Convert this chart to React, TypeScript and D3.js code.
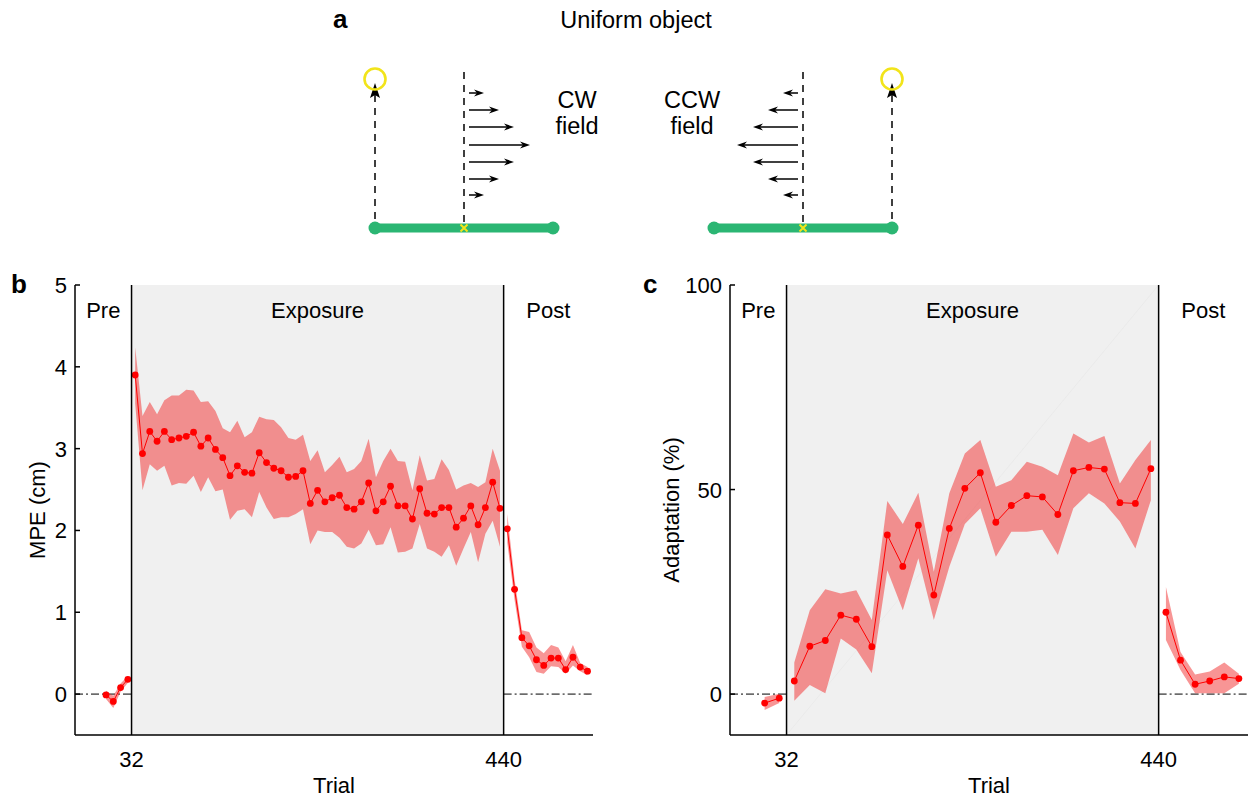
import * as d3 from "d3";
import React from "react";

const FONT = "'Liberation Sans', Arial, Helvetica, sans-serif";
const RED = "#ff0000";
const BAND = "rgba(242, 52, 52, 0.52)";
const GREEN = "#2bb673";
const YELLOW = "#f2e41a";
const FS = 22;

// ---- panel b: MPE (cm), blocks of 8 trials ----
const mpePreTrials = [4, 12, 20, 28];
const mpePre = [-0.01, -0.09, 0.08, 0.18];
const mpePreLo = [-0.06, -0.17, 0.03, 0.14];
const mpePreHi = [0.04, -0.02, 0.13, 0.22];

const mpeExpTrials = d3.range(36, 440, 8);
const mpeExp = [
  3.9, 2.94, 3.21, 3.09, 3.21, 3.11, 3.13, 3.15, 3.2, 3.03,
  3.13, 2.99, 2.89, 2.67, 2.79, 2.71, 2.7, 2.95, 2.83, 2.76,
  2.73, 2.65, 2.66, 2.73, 2.33, 2.49, 2.35, 2.4, 2.43, 2.28,
  2.26, 2.35, 2.58, 2.24, 2.35, 2.54, 2.3, 2.3, 2.14, 2.51,
  2.21, 2.2, 2.28, 2.28, 2.04, 2.15, 2.3, 2.07, 2.28, 2.59, 2.27,
];
const mpeExpHi = [
  4.24, 3.4, 3.57, 3.42, 3.59, 3.65, 3.65, 3.72, 3.71, 3.57,
  3.58, 3.46, 3.25, 3.2, 3.34, 3.14, 3.2, 3.39, 3.36, 3.35,
  3.26, 3.13, 3.11, 3.17, 2.85, 2.98, 2.71, 2.8, 2.9, 2.71,
  2.75, 2.85, 3.12, 2.65, 2.85, 3.0, 2.85, 2.84, 2.49, 2.92,
  2.61, 2.63, 2.87, 2.74, 2.5, 2.55, 2.58, 2.53, 2.59, 3.0, 2.73,
];
const mpeExpLo = [
  3.55, 2.49, 2.81, 2.73, 2.79, 2.55, 2.58, 2.57, 2.67, 2.47,
  2.65, 2.48, 2.5, 2.13, 2.24, 2.26, 2.16, 2.47, 2.28, 2.14,
  2.16, 2.16, 2.2, 2.26, 1.83, 2.0, 1.98, 1.98, 1.91, 1.8,
  1.78, 1.84, 2.01, 1.82, 1.83, 2.04, 1.73, 1.74, 1.78, 2.08,
  1.78, 1.74, 1.68, 1.82, 1.57, 1.78, 1.98, 1.61, 1.96, 2.12, 1.8,
];

const mpePostTrials = d3.range(444, 536, 8);
const mpePost = [2.02, 1.28, 0.69, 0.59, 0.42, 0.35, 0.44, 0.44, 0.3, 0.45, 0.33, 0.28];
const mpePostHi = [2.2, 1.4, 0.78, 0.76, 0.57, 0.5, 0.6, 0.57, 0.4, 0.6, 0.38, 0.33];
const mpePostLo = [1.85, 1.15, 0.58, 0.45, 0.27, 0.25, 0.34, 0.33, 0.25, 0.35, 0.28, 0.23];

// ---- panel c: adaptation (%), blocks of 16/17 trials ----
const adPreTrials = [8, 24];
const adPre = [-2.2, -1.0];
const adPreLo = [-3.9, -2.2];
const adPreHi = [-0.7, 0.1];

const adExpTrials = d3.range(40.5, 440, 17);
const adExp = [
  3.2, 11.7, 13.1, 19.3, 18.3, 11.6, 38.9, 31.2, 41.3, 24.2, 40.5, 50.3,
  54.1, 42.0, 46.1, 48.5, 48.2, 43.9, 54.6, 55.4, 55.0, 46.8, 46.6, 55.1,
];
const adExpHi = [
  7.7, 20.5, 25.6, 24.6, 25.4, 18.1, 47.2, 41.6, 49.2, 29.9, 49.1, 58.8,
  62.1, 50.7, 52.3, 56.8, 55.6, 53.5, 63.7, 61.5, 63.1, 51.5, 57.2, 62.1,
];
const adExpLo = [
  -1.6, 2.2, 0.2, 13.6, 10.9, 5.1, 30.3, 20.5, 33.2, 18.1, 31.1, 41.6,
  45.4, 33.6, 39.7, 39.7, 40.2, 34.0, 45.4, 49.1, 46.6, 42.2, 35.6, 47.4,
];

const adPostTrials = d3.range(448, 536, 16);
const adPost = [20.0, 8.3, 2.4, 3.2, 4.2, 3.8];
const adPostHi = [26.2, 10.3, 4.8, 5.5, 7.7, 5.0];
const adPostLo = [13.2, 5.9, 0.2, 0.2, 0.2, 2.5];

const phaseBounds = [32, 440];
const trialDomain = [-30, 538];

// ---- panel a: force field arrows (relative lengths) ----
const fieldArrowLengths = [15, 30, 45, 61, 45, 30, 15];
const fieldArrowRows = [93, 110, 127, 145, 162, 179, 195];

type Phase = { trials: number[]; mean: number[]; lo: number[]; hi: number[] };

function Series({ phase, x, y }: { phase: Phase; x: any; y: any }) {
  const pts = phase.trials.map((t, i) => ({ t, m: phase.mean[i], lo: phase.lo[i], hi: phase.hi[i] }));
  const area = d3.area<any>().x((d) => x(d.t)).y0((d) => y(d.lo)).y1((d) => y(d.hi));
  const line = d3.line<any>().x((d) => x(d.t)).y((d) => y(d.m));
  return (
    <g>
      <path d={area(pts) || ""} fill={BAND} stroke="none" />
      <path d={line(pts) || ""} fill="none" stroke={RED} strokeWidth={1} />
      {pts.map((d, i) => (
        <circle key={i} cx={x(d.t)} cy={y(d.m)} r={3.4} fill={RED} />
      ))}
    </g>
  );
}

function Panel(props: {
  letter: string;
  letterX: number;
  left: number;
  right: number;
  yDomain: number[];
  yTicks: number[];
  yLabel: string;
  yLabelX: number;
  phases: Phase[];
  diagonal?: boolean;
}) {
  const top = 285;
  const bottom = 735;
  const x = d3.scaleLinear().domain(trialDomain).range([props.left, props.right]);
  const y = d3.scaleLinear().domain(props.yDomain).range([bottom, top]);
  const [x0, x1] = phaseBounds.map((b) => x(b));
  const midY = (top + bottom) / 2;
  return (
    <g fontFamily={FONT}>
      <rect x={x0} y={top} width={x1 - x0} height={bottom - top} fill="#f0f0f0" />
      {props.diagonal && (
        <line x1={x0} y1={bottom} x2={x1} y2={top} stroke="#e9e9e9" strokeWidth={0.8} />
      )}
      {/* zero reference, dash-dot, outside the exposure block */}
      <line x1={props.left} x2={x0} y1={y(0)} y2={y(0)} stroke="#000" strokeWidth={1} strokeDasharray="8,3,2,3" />
      <line x1={x1} x2={props.right} y1={y(0)} y2={y(0)} stroke="#000" strokeWidth={1} strokeDasharray="8,3,2,3" />
      {props.phases.map((p, i) => (
        <Series key={i} phase={p} x={x} y={y} />
      ))}
      {/* phase boundaries */}
      <line x1={x0} x2={x0} y1={top} y2={bottom} stroke="#000" strokeWidth={1.5} />
      <line x1={x1} x2={x1} y1={top} y2={bottom} stroke="#000" strokeWidth={1.5} />
      {/* axes */}
      <line x1={props.left} x2={props.left} y1={top} y2={bottom} stroke="#000" strokeWidth={1.5} />
      <line x1={props.left} x2={props.right} y1={bottom} y2={bottom} stroke="#000" strokeWidth={1.5} />
      {props.yTicks.map((t) => (
        <g key={t}>
          <line x1={props.left} x2={props.left + 5} y1={y(t)} y2={y(t)} stroke="#000" strokeWidth={1.5} />
          <text x={props.left - 8} y={y(t) + 8} fontSize={FS} textAnchor="end">
            {t}
          </text>
        </g>
      ))}
      {phaseBounds.map((b) => (
        <text key={b} x={x(b)} y={767} fontSize={FS} textAnchor="middle">
          {b}
        </text>
      ))}
      <text x={(props.left + props.right) / 2} y={793} fontSize={FS} textAnchor="middle">
        Trial
      </text>
      <text transform={`translate(${props.yLabelX},${midY}) rotate(-90)`} fontSize={FS} textAnchor="middle">
        {props.yLabel}
      </text>
      <text x={(props.left + x0) / 2} y={318} fontSize={FS} textAnchor="middle">Pre</text>
      <text x={(x0 + x1) / 2} y={318} fontSize={FS} textAnchor="middle">Exposure</text>
      <text x={(x1 + props.right) / 2} y={318} fontSize={FS} textAnchor="middle">Post</text>
      <text x={props.letterX} y={293} fontSize={26} fontWeight="bold">
        {props.letter}
      </text>
    </g>
  );
}

function Arm({ cx, side }: { cx: number; side: 1 | -1 }) {
  // object bar with midpoint marker, reach target and field arrows
  const barY = 228;
  const mid = cx;
  const half = 89;
  const targetX = mid - side * half;
  return (
    <g>
      <line x1={targetX} x2={targetX} y1={219} y2={94} stroke="#000" strokeWidth={1.5} strokeDasharray="7,6" />
      <path d={`M${targetX},${83} L${targetX - 5},${98} L${targetX},${95} L${targetX + 5},${98} Z`} fill="#000" />
      <circle cx={targetX} cy={79} r={10.5} fill="none" stroke={YELLOW} strokeWidth={2.6} />
      <line x1={mid} x2={mid} y1={222} y2={72} stroke="#000" strokeWidth={1.5} strokeDasharray="7,6" />
      {fieldArrowRows.map((ry, i) => {
        const s = mid + side * 5;
        const e = s + side * fieldArrowLengths[i];
        return (
          <g key={i}>
            <line x1={s} x2={e - side * 6} y1={ry} y2={ry} stroke="#000" strokeWidth={1.5} />
            <path d={`M${e},${ry} L${e - side * 10},${ry - 3.5} L${e - side * 7},${ry} L${e - side * 10},${ry + 3.5} Z`} fill="#000" />
          </g>
        );
      })}
      <line x1={mid - half} x2={mid + half} y1={barY} y2={barY} stroke={GREEN} strokeWidth={9} />
      <circle cx={mid - half} cy={barY} r={6.5} fill={GREEN} />
      <circle cx={mid + half} cy={barY} r={6.5} fill={GREEN} />
      <path
        d={`M${mid - 3.5},${barY - 3.5} L${mid + 3.5},${barY + 3.5} M${mid + 3.5},${barY - 3.5} L${mid - 3.5},${barY + 3.5}`}
        stroke={YELLOW}
        strokeWidth={2}
      />
    </g>
  );
}

export default function App() {
  const mpePhases: Phase[] = [
    { trials: mpePreTrials, mean: mpePre, lo: mpePreLo, hi: mpePreHi },
    { trials: mpeExpTrials, mean: mpeExp, lo: mpeExpLo, hi: mpeExpHi },
    { trials: mpePostTrials, mean: mpePost, lo: mpePostLo, hi: mpePostHi },
  ];
  const adPhases: Phase[] = [
    { trials: adPreTrials, mean: adPre, lo: adPreLo, hi: adPreHi },
    { trials: adExpTrials, mean: adExp, lo: adExpLo, hi: adExpHi },
    { trials: adPostTrials, mean: adPost, lo: adPostLo, hi: adPostHi },
  ];
  return (
    <div style={{ position: "fixed", left: 0, top: 0, background: "#fff" }}>
      <svg width={1248} height={799} style={{ display: "block" }}>
        <rect width={1248} height={799} fill="#fff" />
        <g fontFamily={FONT}>
          <text x={333} y={28} fontSize={26} fontWeight="bold">a</text>
          <text x={636} y={28} fontSize={23.5} textAnchor="middle">Uniform object</text>
          <text x={577} y={108} fontSize={23.5} textAnchor="middle">CW</text>
          <text x={577} y={134} fontSize={23.5} textAnchor="middle">field</text>
          <text x={692} y={108} fontSize={23.5} textAnchor="middle">CCW</text>
          <text x={692} y={134} fontSize={23.5} textAnchor="middle">field</text>
        </g>
        <Arm cx={464} side={1} />
        <Arm cx={803} side={-1} />
        <Panel
          letter="b"
          letterX={11}
          left={75}
          right={593}
          yDomain={[-0.5, 5]}
          yTicks={[0, 1, 2, 3, 4, 5]}
          yLabel="MPE (cm)"
          yLabelX={45}
          phases={mpePhases}
        />
        <Panel
          letter="c"
          letterX={643}
          left={730}
          right={1248}
          yDomain={[-10, 100]}
          yTicks={[0, 50, 100]}
          yLabel="Adaptation (%)"
          yLabelX={679}
          phases={adPhases}
          diagonal
        />
      </svg>
    </div>
  );
}
